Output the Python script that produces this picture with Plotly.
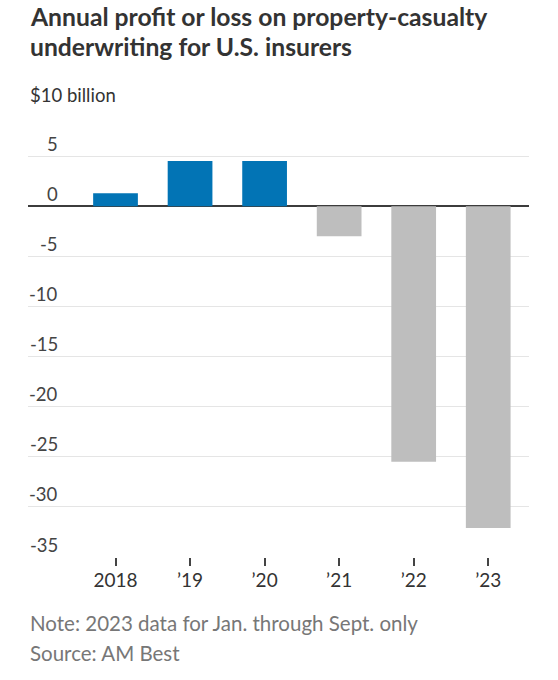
import plotly.graph_objects as go

# Data ($10 billion units)
years = ["2018", "’19", "’20", "’21", "’22", "’23"]
profit = [1.3, 4.5, 4.5, -3.0, -25.5, -32.1]
y_ticks = [10, 5, 0, -5, -10, -15, -20, -25, -30, -35]
y_tick_text = ["$10 billion", "5", "0", "-5", "-10", "-15", "-20", "-25", "-30", "-35"]

title_lines = ["Annual profit or loss on property-casualty", "underwriting for U.S. insurers"]
note_text = "Note: 2023 data for Jan. through Sept. only"
source_text = "Source: AM Best"

FONT = "Lato"
BLUE = "#0274b5"
GREY = "#bebebe"

PLOT_TOP = 106
PLOT_H = 451


def paper_y(py):
    # pixel row from the top of the page -> paper coordinate
    return 1 + (PLOT_TOP - py) / PLOT_H


bar_colors = [BLUE if v >= 0 else GREY for v in profit]

fig = go.Figure()
fig.add_trace(go.Bar(
    x=years, y=profit,
    marker=dict(color=bar_colors, line=dict(width=0)),
    width=0.6,
    hoverinfo="x+y",
))

annotations = []

# title, one annotation per line
for line, py in zip(title_lines, [16.5, 46.5]):
    annotations.append(dict(
        x=0, xref="paper", xanchor="left",
        y=paper_y(py), yref="paper", yanchor="middle",
        text=line, showarrow=False,
        font=dict(family=FONT, size=24.7, color="#333333", weight=700),
    ))

# y labels sit above their gridlines, right aligned (first one left aligned)
for val, txt in zip(y_ticks, y_tick_text):
    if val == 10:
        annotations.append(dict(
            x=0, xref="paper", xanchor="left",
            y=val, yref="y", yanchor="middle", yshift=11.5,
            text=txt, showarrow=False,
            font=dict(family=FONT, size=18.5, color="#333333"),
        ))
    else:
        annotations.append(dict(
            x=0.064, xref="paper", xanchor="right",
            y=val, yref="y", yanchor="middle", yshift=12.5,
            text=txt, showarrow=False,
            font=dict(family=FONT, size=18.5, color="#444444"),
        ))

annotations.append(dict(
    x=0, xref="paper", xanchor="left",
    y=paper_y(623), yref="paper", yanchor="middle",
    text=note_text, showarrow=False,
    font=dict(family=FONT, size=20.5, color="#777777"),
))
annotations.append(dict(
    x=0, xref="paper", xanchor="left",
    y=paper_y(652.7), yref="paper", yanchor="middle",
    text=source_text, showarrow=False,
    font=dict(family=FONT, size=20.5, color="#777777"),
))

fig.update_layout(
    width=558, height=680,
    margin=dict(l=28, r=29, t=PLOT_TOP, b=680 - PLOT_TOP - PLOT_H),
    paper_bgcolor="white", plot_bgcolor="white",
    showlegend=False,
    annotations=annotations,
    bargap=0.4,
)

fig.update_xaxes(
    type="category",
    range=[-1.174, 5.547],
    showgrid=False, showline=False, zeroline=False,
    ticks="outside", ticklen=8, tickwidth=1.5, tickcolor="#444444",
    tickfont=dict(family=FONT, size=19, color="#333333"),
    ticklabelstandoff=-2,
    fixedrange=True,
)

fig.update_yaxes(
    range=[-35, 10],
    tickvals=y_ticks,
    showticklabels=False,
    showgrid=True, gridcolor="#e5e5e5", gridwidth=1,
    zeroline=True, zerolinecolor="#3c3c3c", zerolinewidth=2,
    showline=False, ticks="",
    fixedrange=True,
)

# drop the browser's default page margin so the figure sits at the corner
fig.write_html(
    "out.html",
    config={"displayModeBar": False},
    post_script="document.body.style.margin='0';",
)
